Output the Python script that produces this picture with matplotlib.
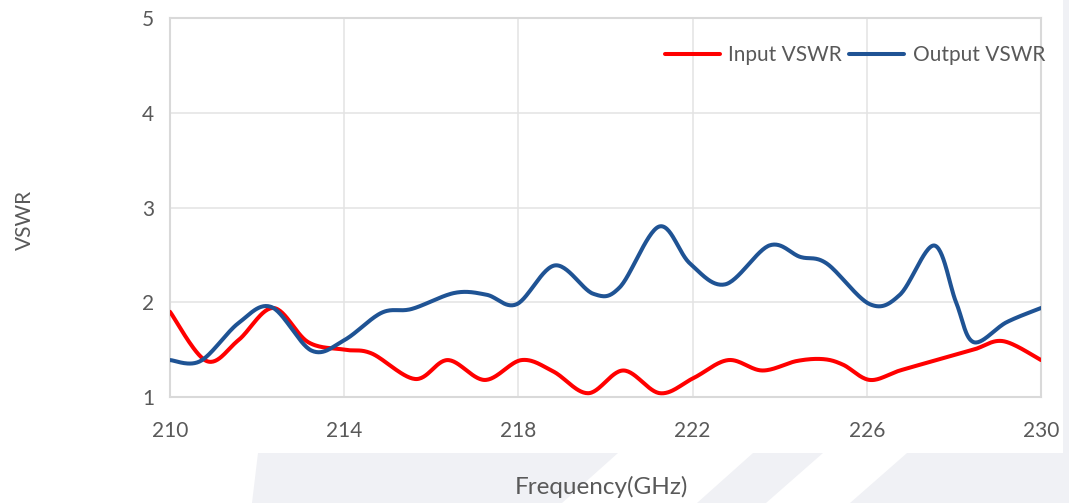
import numpy as np
import matplotlib
matplotlib.use("Agg")
import matplotlib.pyplot as plt
from matplotlib.patches import Polygon

# ---- data ----
input_freq = [210.0, 210.84, 211.57, 212.37, 213.17, 214.0, 214.63, 215.63, 216.38,
              217.23, 218.07, 218.8, 219.6, 220.41, 221.25, 222.02, 222.82, 223.6,
              224.39, 225.0, 225.46, 226.07, 226.76, 227.6, 228.45, 229.13, 230.0]
input_vswr = [1.90, 1.38, 1.60, 1.94, 1.58, 1.50, 1.46, 1.19, 1.39,
              1.18, 1.39, 1.27, 1.04, 1.28, 1.04, 1.20, 1.39, 1.28,
              1.38, 1.40, 1.34, 1.18, 1.28, 1.39, 1.50, 1.59, 1.39]

output_freq = [210.0, 210.7, 211.57, 212.33, 213.25, 214.0, 214.86, 215.55, 216.54,
               217.27, 217.96, 218.84, 219.72, 220.33, 221.23, 221.94, 222.75, 223.76,
               224.47, 225.08, 226.07, 226.76, 227.55, 228.05, 228.45, 229.21, 230.0]
output_vswr = [1.39, 1.38, 1.78, 1.95, 1.49, 1.60, 1.89, 1.93, 2.10,
               2.08, 1.98, 2.39, 2.09, 2.16, 2.80, 2.41, 2.19, 2.60,
               2.48, 2.41, 1.98, 2.08, 2.60, 2.00, 1.58, 1.79, 1.94]

x_ticks = [210, 214, 218, 222, 226, 230]
y_ticks = [1, 2, 3, 4, 5]
series_names = ["Input VSWR", "Output VSWR"]
series_colors = ["#ff0000", "#1f5394"]

W, H = 1069, 503
plt.rcParams['font.family'] = ['Lato', 'DejaVu Sans']
fig = plt.figure(figsize=(W / 100, H / 100), dpi=100)
fig.patch.set_facecolor("white")

# background watermark shapes (pixel coords -> figure fraction)
def px(pts):
    return [(x / W, 1 - y / H) for x, y in pts]

gray = "#f0f1f5"
shapes = [
    [(258, 453), (618, 453), (562, 503), (252, 503)],
    [(753, 453), (823, 453), (766, 503), (697, 503)],
    [(907, 453), (1069, 453), (1069, 503), (850, 503)],
    [(1063, 0), (1069, 0), (1069, 453), (1063, 453)],
]
for s in shapes:
    fig.add_artist(Polygon(px(s), closed=True, transform=fig.transFigure,
                           facecolor=gray, edgecolor="none", zorder=0))

ax = fig.add_axes([170 / W, 1 - 397 / H, (1041 - 170) / W, (397 - 18.3) / H])
ax.set_facecolor("white")
ax.set_xlim(210, 230)
ax.set_ylim(1, 5)

# Excel-like smoothing (Bezier with Catmull-Rom control points in screen space)
sx = 43.55
sy = 94.75

def smooth(xs, ys, n=30):
    P = np.column_stack([np.asarray(xs) * sx, np.asarray(ys) * sy])
    out = []
    m = len(P)
    for i in range(m - 1):
        p0 = P[i - 1] if i > 0 else P[i]
        p1 = P[i]
        p2 = P[i + 1]
        p3 = P[i + 2] if i + 2 < m else P[i + 1]
        c1 = p1 + (p2 - p0) / 6.0
        c2 = p2 - (p3 - p1) / 6.0
        t = np.linspace(0, 1, n, endpoint=(i == m - 2))[:, None]
        b = ((1 - t) ** 3) * p1 + 3 * ((1 - t) ** 2) * t * c1 + 3 * (1 - t) * t ** 2 * c2 + t ** 3 * p2
        out.append(b)
    out = np.vstack(out)
    return out[:, 0] / sx, out[:, 1] / sy

for fx, vy, name, col in [(input_freq, input_vswr, series_names[0], series_colors[0]),
                          (output_freq, output_vswr, series_names[1], series_colors[1])]:
    xs, ys = smooth(fx, vy)
    ax.plot(xs, ys, color=col, lw=2.9, label=name, solid_capstyle="round", zorder=3)

ax.set_xticks(x_ticks)
ax.set_yticks(y_ticks)
ax.grid(True, color="#e3e3e3", lw=1.1, zorder=0)
ax.set_axisbelow(True)
for sp in ax.spines.values():
    sp.set_color("#d9d9d9")
    sp.set_linewidth(1.5)
ax.tick_params(axis="both", length=0, labelsize=15, labelcolor="#595959")
ax.tick_params(axis="x", pad=17)
ax.tick_params(axis="y", pad=11.5)

leg = ax.legend(loc="center right", bbox_to_anchor=(1045 / W, 1 - 55 / H),
                bbox_transform=fig.transFigure, ncol=2, frameon=False, fontsize=15,
                handlelength=2.65, handletextpad=0.4, columnspacing=0.35, borderpad=0,
                borderaxespad=0)
for t in leg.get_texts():
    t.set_color("#595959")

fig.text(601 / W, 1 - 487 / H, "Frequency(GHz)", ha="center", va="center",
         fontsize=17.5, color="#595959")
fig.text(25 / W, 1 - 220 / H, "VSWR", ha="center", va="center", rotation=90,
         fontsize=15, color="#595959")

fig.savefig("out.png", dpi=100, facecolor=fig.get_facecolor())
